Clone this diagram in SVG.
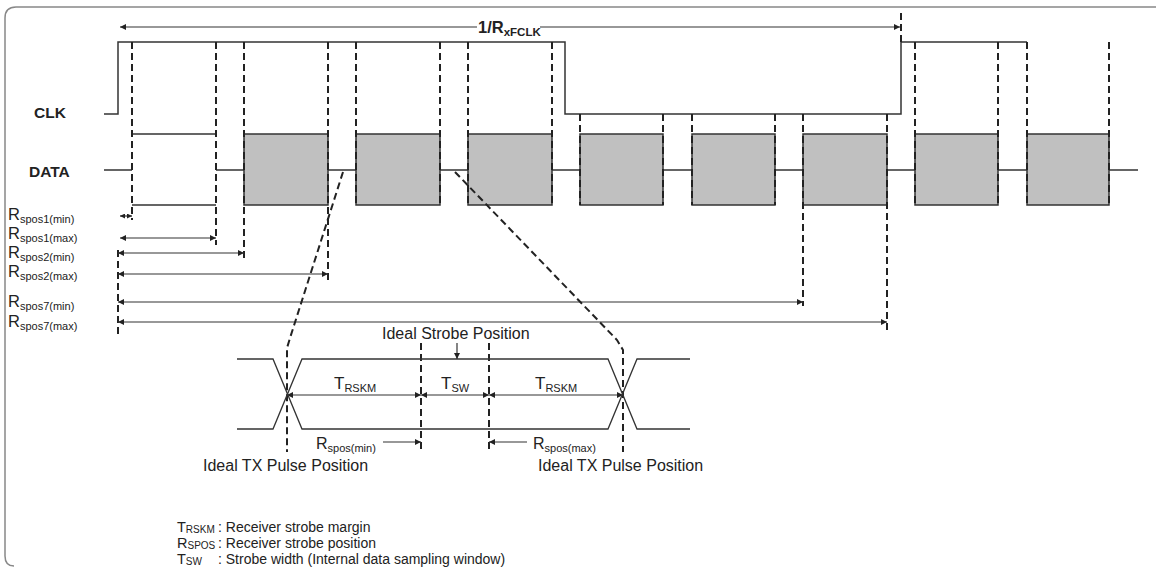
<svg xmlns="http://www.w3.org/2000/svg" width="1156" height="567" viewBox="0 0 1156 567">
<style>
.ln{stroke:#333;stroke-width:1.3;fill:none}
.sig{stroke:#333;stroke-width:1.5;fill:none}
.dash{stroke:#222;stroke-width:2;stroke-dasharray:7,4;fill:none}
.blk{fill:#c0c0c0;stroke:#333;stroke-width:1.5}
.arr{stroke:#333;stroke-width:1.2;fill:none;marker-start:url(#ah);marker-end:url(#ah)}
.arrE{stroke:#333;stroke-width:1.2;fill:none;marker-end:url(#ah)}
.t{font-family:"Liberation Sans",Arial,sans-serif;fill:#222}
.b{font-weight:bold}
</style>
<defs>
<marker id="ah" viewBox="0 0 10 10" refX="10" refY="5" markerWidth="8" markerHeight="6" markerUnits="userSpaceOnUse" orient="auto-start-reverse"><path d="M0,0 L10,5 L0,10 z" fill="#222"/></marker>
<marker id="ahs" viewBox="0 0 10 10" refX="10" refY="5" markerWidth="5" markerHeight="5" markerUnits="userSpaceOnUse" orient="auto-start-reverse"><path d="M0,0 L10,5 L0,10 z" fill="#222"/></marker>
</defs>
<rect width="1156" height="567" fill="#fff"/>
<path d="M1156,7 H16 Q5,7 5,18 V556 Q5,566 14,566" stroke="#888" stroke-width="1.5" fill="none"/>

<g id="labels">
<text class="t b" x="34" y="118" font-size="15.5">CLK</text>
<text class="t b" x="29" y="177" font-size="15.5">DATA</text>
<text class="t b" x="478" y="33" font-size="16.5">1/R<tspan font-size="11.5" dy="3">xFCLK</tspan></text>
</g>

<g id="clk">
<path class="sig" d="M104,114 H118 V42 H565 V114 H901 V42 H1027"/>
</g>

<g id="data">
<path class="sig" d="M104,170 H132 M216,170 H244 M328,170 H356 M440,170 H468 M552,170 H580 M663,170 H692 M775,170 H803 M887,170 H915 M998,170 H1027 M1109,170 H1138"/>
<path class="sig" d="M132,134 H216 M132,205 H216"/>
<rect class="blk" x="244" y="134" width="84" height="71"/>
<rect class="blk" x="356" y="134" width="84" height="71"/>
<rect class="blk" x="468" y="134" width="84" height="71"/>
<rect class="blk" x="580" y="134" width="83" height="71"/>
<rect class="blk" x="692" y="134" width="83" height="71"/>
<rect class="blk" x="803" y="134" width="84" height="71"/>
<rect class="blk" x="915" y="134" width="83" height="71"/>
<rect class="blk" x="1027" y="134" width="82" height="71"/>
</g>

<g id="connectors">
<path class="dash" d="M132,42 V220 M216,42 V245 M244,42 V258 M328,42 V282 M356,42 V205 M440,42 V205 M468,42 V205 M552,42 V205 M580,114 V205 M663,114 V205 M692,114 V205 M775,114 V205 M803,114 V306 M887,114 V330 M901,13 V42 M915,42 V205 M998,42 V205 M1027,42 V205 M1109,42 V205 M118,250 V338"/>
<path class="arrE" d="M477,27 H120"/>
<path class="arrE" d="M540,27 H900"/>
<path d="M120,216 H132" stroke="#333" stroke-width="1.2" marker-start="url(#ahs)" marker-end="url(#ahs)"/>
<path class="arr" d="M120,238 H216"/>
<path class="arr" d="M118,253 H244"/>
<path class="arr" d="M118,274 H328"/>
<path class="arr" d="M118,302 H803"/>
<path class="arr" d="M118,322 H887"/>
<path class="dash" d="M343,172 L290,338 L287,348 L287,452"/>
<path class="dash" d="M455,172 L617,340 L623,350 L623,452"/>
<path class="dash" d="M421,343 V452 M489,343 V452"/>
<path class="arr" d="M287,395 H421"/>
<path class="arr" d="M421,395 H489"/>
<path class="arr" d="M489,395 H623"/>
<path class="arrE" d="M457,343 V359"/>
<path class="arrE" d="M383,442 H421"/>
<path class="arrE" d="M527,442 H489"/>
</g>

<g id="rspos-labels" class="t">
<text x="8" y="220" font-size="16.5">R<tspan font-size="11" dy="3">spos1(min)</tspan></text>
<text x="8" y="239" font-size="16.5">R<tspan font-size="11" dy="3">spos1(max)</tspan></text>
<text x="8" y="258" font-size="16.5">R<tspan font-size="11" dy="3">spos2(min)</tspan></text>
<text x="8" y="277" font-size="16.5">R<tspan font-size="11" dy="3">spos2(max)</tspan></text>
<text x="8" y="307" font-size="16.5">R<tspan font-size="11" dy="3">spos7(min)</tspan></text>
<text x="8" y="327" font-size="16.5">R<tspan font-size="11" dy="3">spos7(max)</tspan></text>
</g>

<g id="eye">
<path class="ln" d="M237,359 H273 L302,429 H608 L637,359 H690"/>
<path class="ln" d="M237,429 H273 L302,359 H608 L637,429 H690"/>
</g>

<g id="eye-labels" class="t">
<text x="382" y="339" font-size="16">Ideal Strobe Position</text>
<text x="334" y="389" font-size="17">T<tspan font-size="11" dy="3">RSKM</tspan></text>
<text x="441" y="389" font-size="17">T<tspan font-size="11" dy="3">SW</tspan></text>
<text x="535" y="389" font-size="17">T<tspan font-size="11" dy="3">RSKM</tspan></text>
<text x="316" y="449" font-size="16">R<tspan font-size="11" dy="3">spos(min)</tspan></text>
<text x="533" y="449" font-size="16">R<tspan font-size="11" dy="3">spos(max)</tspan></text>
<text x="203" y="471" font-size="16">Ideal TX Pulse Position</text>
<text x="538" y="471" font-size="16">Ideal TX Pulse Position</text>
</g>

<g id="legend" class="t" font-size="14">
<text x="177" y="532" font-size="14.5">T<tspan font-size="10" dy="1">RSKM</tspan></text>
<text x="218" y="532">: Receiver strobe margin</text>
<text x="177" y="548" font-size="14.5">R<tspan font-size="10" dy="1">SPOS</tspan></text>
<text x="218" y="548">: Receiver strobe position</text>
<text x="177" y="564" font-size="14.5">T<tspan font-size="10" dy="1">SW</tspan></text>
<text x="218" y="564">: Strobe width (Internal data sampling window)</text>
</g>
</svg>
